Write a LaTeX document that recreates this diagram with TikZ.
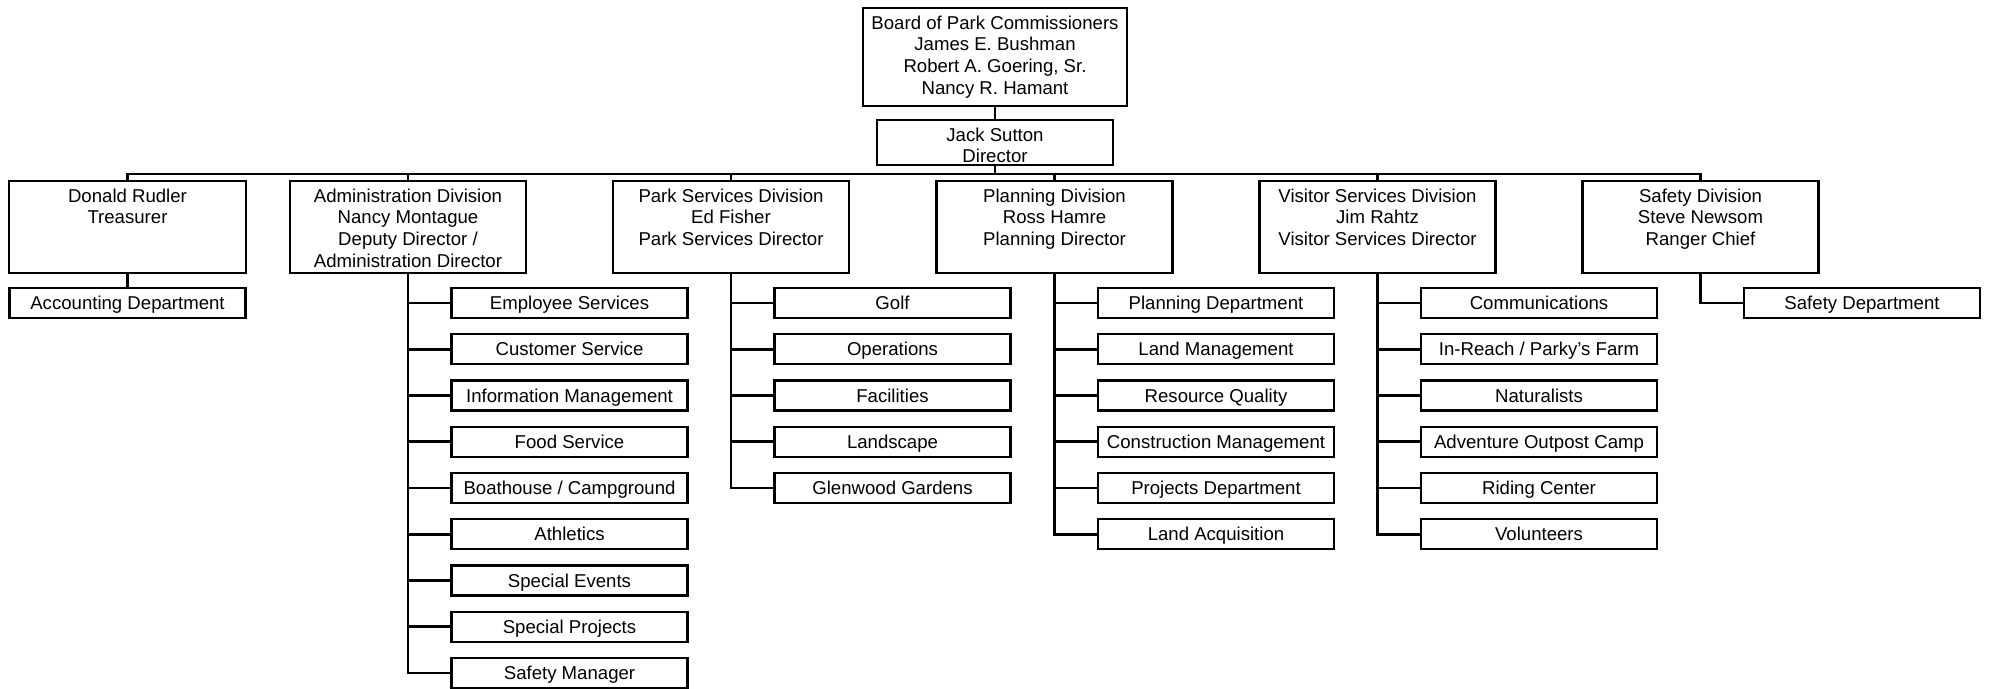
\documentclass[tikz,border=0pt]{standalone}
\usepackage{fontspec}
\setmainfont{Liberation Sans}
\newcommand{\boxtxt}[3]{\parbox[c][#2][t]{#1}{\centering\rule{0pt}{10.65pt}#3}}
\begin{document}
\begin{tikzpicture}[x=0.5pt,y=-0.5pt,
  every node/.style={font=\fontsize{9.3pt}{10.85pt}\selectfont, inner sep=0pt, outer sep=0pt},
  boxline/.style={draw=black, line width=1.2pt},
  subbox/.style={boxline, minimum width=118pt, minimum height=15pt, text height=6.66pt, text depth=0pt},
  conn/.style={draw=black, line width=1.3pt}]
\useasboundingbox (0,0) rectangle (1990,689);
% top
\node[boxline] (board) at (995,57) {\boxtxt{132pt}{49pt}{Board of Park Commissioners\\James E. Bushman\\Robert A. Goering, Sr.\\Nancy R. Hamant}};
\node[boxline] (jack) at (995,142.5) {\boxtxt{118pt}{22.5pt}{Jack Sutton\\Director}};
% divisions
\node[boxline] (don) at (127.5,227) {\boxtxt{118.5pt}{46pt}{Donald Rudler\\Treasurer}};
\node[boxline] (adm) at (408,227) {\boxtxt{118pt}{46pt}{Administration Division\\Nancy Montague\\Deputy Director /\\Administration Director}};
\node[boxline] (park) at (731,227) {\boxtxt{118pt}{46pt}{Park Services Division\\Ed Fisher\\Park Services Director}};
\node[boxline] (plan) at (1054.5,227) {\boxtxt{118pt}{46pt}{Planning Division\\Ross Hamre\\Planning Director}};
\node[boxline] (vis) at (1377.5,227) {\boxtxt{118pt}{46pt}{Visitor Services Division\\Jim Rahtz\\Visitor Services Director}};
\node[boxline] (saf) at (1700.5,227) {\boxtxt{118pt}{46pt}{Safety Division\\Steve Newsom\\Ranger Chief}};
% connectors top
\coordinate (bus) at (995,174);
\draw[conn] (board.south) -- (jack.north);
\draw[conn] (jack.south) -- (bus);
\draw[conn] (don.north) |- (bus) -| (saf.north);
\foreach \d in {adm,park,plan,vis} {\draw[conn] (\d.north) -- (\d.north |- bus);}
% Donald
\node[subbox] (acc) at (127.5,303) {Accounting Department};
\draw[conn] (don.south) -- (acc.north);
% Admin subs
\foreach \t [count=\i] in {Employee Services,Customer Service,Information Management,Food Service,Boathouse / Campground,Athletics,Special Events,Special Projects,Safety Manager} {
  \node[subbox] (adm\i) at (569.5,{303+46.25*(\i-1)}) {\t};
  \draw[conn] (adm.south) |- (adm\i.west);
}
% Park subs
\foreach \t [count=\i] in {Golf,Operations,Facilities,Landscape,Glenwood Gardens} {
  \node[subbox] (park\i) at (892.5,{303+46.25*(\i-1)}) {\t};
  \draw[conn] (park.south) |- (park\i.west);
}
% Planning subs
\foreach \t [count=\i] in {Planning Department,Land Management,Resource Quality,Construction Management,Projects Department,Land Acquisition} {
  \node[subbox] (plan\i) at (1216,{303+46.25*(\i-1)}) {\t};
  \draw[conn] (plan.south) |- (plan\i.west);
}
% Visitor subs
\foreach \t [count=\i] in {Communications,In-Reach / Parky's Farm,Naturalists,Adventure Outpost Camp,Riding Center,Volunteers} {
  \node[subbox] (vis\i) at (1539,{303+46.25*(\i-1)}) {\t};
  \draw[conn] (vis.south) |- (vis\i.west);
}
% Safety
\node[subbox] (safd) at (1862,303) {Safety Department};
\draw[conn] (saf.south) |- (safd.west);
\end{tikzpicture}
\end{document}
